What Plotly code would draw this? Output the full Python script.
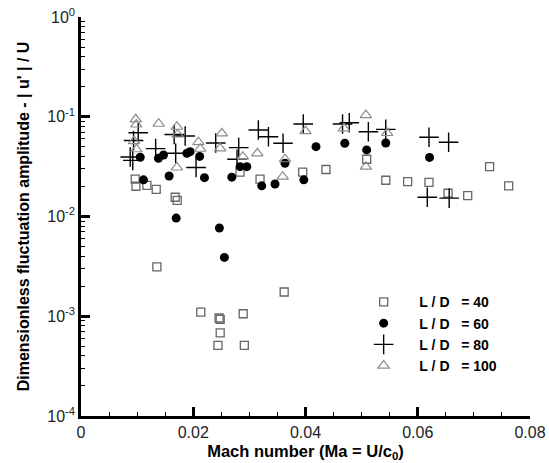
import plotly.graph_objects as go

# L/D = 40 (open squares)
ma_40 = [0.00966, 0.00979, 0.01174, 0.0134, 0.01678, 0.01714, 0.01352, 0.02834, 0.0319, 0.0395,
         0.04365, 0.0509, 0.0543, 0.0582, 0.062, 0.0654, 0.0689, 0.0728, 0.0762,
         0.02135, 0.0246, 0.0248, 0.0289, 0.0248, 0.0244, 0.0291, 0.0362]
amp_40 = [0.0237, 0.0201, 0.0205, 0.0187, 0.0156, 0.0145, 0.00312, 0.0279, 0.0237, 0.0279,
          0.0296, 0.0375, 0.0231, 0.0224, 0.022, 0.0171, 0.0162, 0.0316, 0.0203,
          0.0011, 0.00096, 0.00093, 0.00106, 0.00068, 0.00051, 0.00051, 0.00175]

# L/D = 60 (filled circles)
ma_60 = [0.01055, 0.01114, 0.0138, 0.0147, 0.0157, 0.01696, 0.01886, 0.01945, 0.02114, 0.022,
         0.02466, 0.02555, 0.02687, 0.02835, 0.02954, 0.0322, 0.03457, 0.03635, 0.0397, 0.04187,
         0.047, 0.0509, 0.0543, 0.0621]
amp_60 = [0.0393, 0.0233, 0.0384, 0.0414, 0.0255, 0.00964, 0.043, 0.0447, 0.04, 0.0245,
          0.00766, 0.00389, 0.0248, 0.0316, 0.0316, 0.0203, 0.0212, 0.0342, 0.0233, 0.0501,
          0.0542, 0.0465, 0.0546, 0.0391]

# L/D = 80 (crosses)
ma_80 = [0.00877, 0.00922, 0.00936, 0.0102, 0.0133, 0.0166, 0.01856, 0.01687, 0.0205, 0.024,
         0.0281, 0.0278, 0.0316, 0.0334, 0.036, 0.0396, 0.0466, 0.0478, 0.0512, 0.0543,
         0.062, 0.0655, 0.0617, 0.0656]
amp_80 = [0.0395, 0.0365, 0.0578, 0.0692, 0.0479, 0.0664, 0.0641, 0.043, 0.031, 0.0546,
          0.049, 0.0375, 0.0736, 0.063, 0.0542, 0.0845, 0.0845, 0.0871, 0.0708, 0.0748,
          0.0622, 0.0555, 0.0156, 0.0153]

# L/D = 100 (open triangles)
ma_100 = [0.00975, 0.00984, 0.01384, 0.01708, 0.01722, 0.00945, 0.00988, 0.02093, 0.02123, 0.01708,
          0.0251, 0.02479, 0.02883, 0.03142, 0.03635, 0.03594, 0.04, 0.04685, 0.05076, 0.05076,
          0.05455]
amp_100 = [0.0942, 0.0836, 0.0851, 0.0794, 0.0664, 0.0571, 0.0472, 0.0556, 0.0478, 0.031,
           0.0682, 0.0483, 0.0398, 0.043, 0.0375, 0.0251, 0.0719, 0.0766, 0.104, 0.0316,
           0.0687]

NB = "\u00a0"
series_names = [f"L{NB}/{NB}D{NB}{NB}{NB}={NB}40", f"L{NB}/{NB}D{NB}{NB}{NB}={NB}60",
                f"L{NB}/{NB}D{NB}{NB}{NB}={NB}80", f"L{NB}/{NB}D{NB}{NB}{NB}={NB}100"]

x_tickvals = [0, 0.02, 0.04, 0.06, 0.08]
x_ticktext = ["0", "0.02", "0.04", "0.06", "0.08"]
y_tickvals = [1e-4, 1e-3, 1e-2, 1e-1, 1]
y_ticktext = ["10<sup>-4</sup>", "10<sup>-3</sup>", "10<sup>-2</sup>", "10<sup>-1</sup>", "10<sup>0</sup>"]
y_minor = [m * 10 ** e for e in range(-4, 0) for m in range(2, 10)]

FONT = "Liberation Sans, Arial, sans-serif"

fig = go.Figure()
fig.add_trace(go.Scatter(x=ma_40, y=amp_40, mode="markers", name=series_names[0],
                         marker=dict(symbol="square-open", size=8, color="#666666", line=dict(width=1.3))))
fig.add_trace(go.Scatter(x=ma_60, y=amp_60, mode="markers", name=series_names[1],
                         marker=dict(symbol="circle", size=9, color="black")))
fig.add_trace(go.Scatter(x=ma_80, y=amp_80, mode="markers", name=series_names[2],
                         marker=dict(symbol="cross-thin-open", size=14, color="black", line=dict(width=1.4, color="black"))))
fig.add_trace(go.Scatter(x=ma_100, y=amp_100, mode="markers", name=series_names[3],
                         marker=dict(symbol="triangle-up-open", size=10, color="#8c8c8c", line=dict(width=1.2))))

fig.update_layout(
    width=549, height=463,
    margin=dict(l=81, r=19, t=17, b=47),
    paper_bgcolor="white", plot_bgcolor="white",
    font=dict(family=FONT, size=16, color="black"),
    showlegend=True,
    legend=dict(x=0.595, y=0.325, xanchor="left", yanchor="top",
                bgcolor="rgba(0,0,0,0)", itemwidth=61,
                font=dict(family=FONT, size=14, color="black", weight="bold"),
                tracegroupgap=0),
    xaxis=dict(range=[0, 0.08], tickvals=x_tickvals, ticktext=x_ticktext, automargin=False,
               ticks="inside", ticklen=9, tickwidth=2.5, tickcolor="black",
               showline=True, linewidth=2.5, linecolor="black", mirror=False,
               showgrid=False, zeroline=False,
               tickfont=dict(family=FONT, size=16, color="#222222"),
               minor=dict(ticks="inside", ticklen=4, tickwidth=1, tickcolor="black", dtick=0.005, tick0=0, showgrid=False),
               title=dict(text="Mach number (Ma = U/c<sub>0</sub>)", standoff=6,
                          font=dict(family=FONT, size=16.5, color="black", weight="bold"))),
    yaxis=dict(type="log", range=[-4, 0], tickvals=y_tickvals, ticktext=y_ticktext, automargin=False,
               ticks="inside", ticklen=9, tickwidth=2.5, tickcolor="black",
               showline=True, linewidth=2.5, linecolor="black", mirror=False,
               showgrid=False, zeroline=False,
               tickfont=dict(family=FONT, size=16, color="#222222"),
               minor=dict(ticks="inside", ticklen=4, tickwidth=1, tickcolor="black", tickvals=y_minor, showgrid=False),
               title=dict(text="Dimensionless fluctuation amplitude - | u' | / U", standoff=14,
                          font=dict(family=FONT, size=16, color="black", weight="bold"))),
)

fig.write_html("out.html")
